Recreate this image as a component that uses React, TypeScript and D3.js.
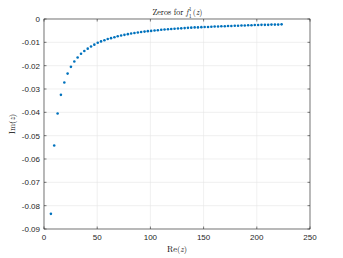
import React from "react";
import * as d3 from "d3";

const reZ = [
  6.5, 9.6, 12.8, 15.9, 19.1, 22.2, 25.3, 28.5, 31.6, 34.8, 37.9, 41.1, 44.2, 47.3,
  50.5, 53.6, 56.8, 59.9, 63.0, 66.2, 69.3, 72.5, 75.6, 78.8, 81.9, 85.0, 88.2, 91.3,
  94.5, 97.6, 100.7, 103.9, 107.0, 110.2, 113.3, 116.5, 119.6, 122.7, 125.9, 129.0,
  132.2, 135.3, 138.4, 141.6, 144.7, 147.9, 151.0, 154.2, 157.3, 160.4, 163.6, 166.7,
  169.9, 173.0, 176.1, 179.3, 182.4, 185.6, 188.7, 191.9, 195.0, 198.1, 201.3, 204.4,
  207.6, 210.7, 213.8, 217.0, 220.1, 223.3,
];
const imZ = [
  -0.0835, -0.0542, -0.0405, -0.0325, -0.0272, -0.0234, -0.0205, -0.0182, -0.0165,
  -0.0149, -0.0137, -0.0127, -0.0118, -0.011, -0.0102, -0.0096, -0.0091, -0.0086,
  -0.0082, -0.0078, -0.0074, -0.0071, -0.0068, -0.0065, -0.0062, -0.006, -0.0058,
  -0.0056, -0.0054, -0.0052, -0.0051, -0.0049, -0.0048, -0.0046, -0.0045, -0.0044,
  -0.0043, -0.0042, -0.0041, -0.004, -0.0039, -0.0038, -0.0037, -0.0036, -0.0036,
  -0.0035, -0.0034, -0.0034, -0.0033, -0.0032, -0.0032, -0.0031, -0.0031, -0.003,
  -0.003, -0.0029, -0.0029, -0.0028, -0.0028, -0.0027, -0.0027, -0.0026, -0.0026,
  -0.0025, -0.0025, -0.0025, -0.0024, -0.0024, -0.0024, -0.0023,
];
const xTicks = [0, 50, 100, 150, 200, 250];
const yTicks = [0, -0.01, -0.02, -0.03, -0.04, -0.05, -0.06, -0.07, -0.08, -0.09];

const W = 343;
const H = 258;
const margin = { top: 19, right: 33, bottom: 29, left: 44 };

const App = () => {
  const x = d3.scaleLinear().domain([0, 250]).range([margin.left, W - margin.right]);
  const y = d3.scaleLinear().domain([-0.09, 0]).range([H - margin.bottom, margin.top]);
  const [x0, x1] = x.range();
  const [y0, y1] = y.range();
  const sans = "Helvetica, Arial, 'Liberation Sans', sans-serif";
  const serif = "'Latin Modern Roman', 'DejaVu Serif', 'Liberation Serif', serif";
  const tx = 189; // where the f's scripts go in the title

  return (
    <svg width={W} height={H} style={{ position: "absolute", left: 0, top: 0, background: "#fff" }}>
      {/* grid */}
      {xTicks.map((t) => (
        <line key={"gx" + t} x1={x(t)} x2={x(t)} y1={y1} y2={y0} stroke="#e6e6e6" strokeWidth={0.6} />
      ))}
      {yTicks.map((t) => (
        <line key={"gy" + t} x1={x0} x2={x1} y1={y(t)} y2={y(t)} stroke="#e6e6e6" strokeWidth={0.6} />
      ))}
      {/* ticks */}
      {xTicks.map((t) => (
        <g key={"tx" + t}>
          <line x1={x(t)} x2={x(t)} y1={y0} y2={y0 - 2.5} stroke="#262626" strokeWidth={0.6} />
          <line x1={x(t)} x2={x(t)} y1={y1} y2={y1 + 2.5} stroke="#262626" strokeWidth={0.6} />
          <text x={x(t)} y={y0 + 11} textAnchor="middle" fontSize={8} fontFamily={sans} fill="#262626">
            {t}
          </text>
        </g>
      ))}
      {yTicks.map((t) => (
        <g key={"ty" + t}>
          <line x1={x0} x2={x0 + 2.5} y1={y(t)} y2={y(t)} stroke="#262626" strokeWidth={0.6} />
          <line x1={x1} x2={x1 - 2.5} y1={y(t)} y2={y(t)} stroke="#262626" strokeWidth={0.6} />
          <text x={x0 - 4} y={y(t) + 3} textAnchor="end" fontSize={8} fontFamily={sans} fill="#262626">
            {t === 0 ? "0" : d3.format(".2f")(t).replace("−", "-")}
          </text>
        </g>
      ))}
      {/* box */}
      <rect x={x0} y={y1} width={x1 - x0} height={y0 - y1} fill="none" stroke="#262626" strokeWidth={0.6} />
      {/* points */}
      {reZ.map((re, i) => (
        <circle key={i} cx={x(re)} cy={y(imZ[i])} r={1.3} fill="#0072BD" />
      ))}
      {/* title: Zeros for f_1^1(z) */}
      <text x={tx - 0.5} y={15} textAnchor="end" fontSize={8} fontFamily={serif} fill="#000">
        Zeros for <tspan fontStyle="italic">f</tspan>
      </text>
      <text x={tx} y={11} fontSize={5} fontFamily={serif} fill="#000">1</text>
      <text x={tx} y={17.5} fontSize={5} fontFamily={serif} fill="#000">1</text>
      <text x={tx + 3.8} y={15} fontSize={8} fontFamily={serif} fill="#000">
        (<tspan fontStyle="italic">z</tspan>)
      </text>
      <text x={(x0 + x1) / 2} y={252} textAnchor="middle" fontSize={8.5} fontFamily={serif} fill="#000">
        Re(<tspan fontStyle="italic">z</tspan>)
      </text>
      <text
        transform={`translate(15,${(y0 + y1) / 2}) rotate(-90)`}
        textAnchor="middle"
        fontSize={8.5}
        fontFamily={serif}
        fill="#000"
      >
        Im(<tspan fontStyle="italic">z</tspan>)
      </text>
    </svg>
  );
};

export default App;
